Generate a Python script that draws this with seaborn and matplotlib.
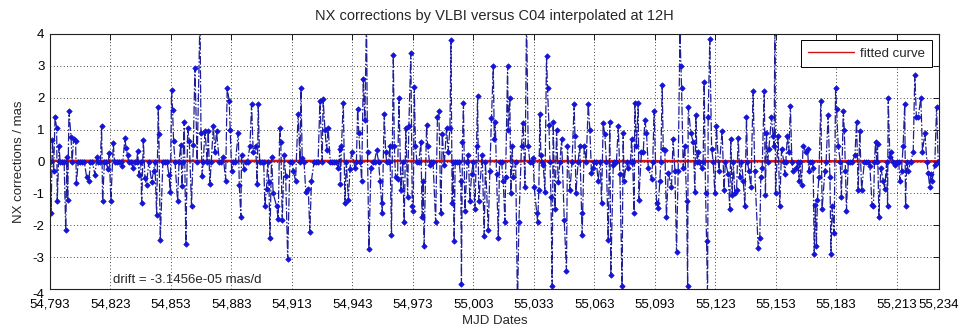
import numpy as np
import pandas as pd
import matplotlib
matplotlib.use("Agg")
import matplotlib.pyplot as plt
import matplotlib.transforms as mtransforms
import seaborn as sns
from matplotlib.ticker import FuncFormatter

sns.set_style("white")
plt.rcParams["font.family"] = ["Liberation Sans", "DejaVu Sans"]

# ---- data (MJD, NX correction in mas) ----
seg1_mjd = [54793.5, 54794.2, 54794.8, 54795.5, 54796.3, 54796.6, 54797.5, 54800.8, 54801.4, 54801.8,
            54802.4, 54803.4, 54804.7, 54805.7, 54806.1, 54811.2, 54812.3, 54815.3, 54816.3, 54818.6,
            54819.1, 54821.6, 54822.4, 54823.2, 54824.4, 54828.9, 54830.2, 54830.7, 54831.5, 54834.3,
            54836.5, 54837.1, 54838.5, 54839.3, 54840.1, 54840.9, 54843.4, 54844.4, 54845.9, 54846.7,
            54847.0, 54847.7, 54852.0, 54852.7, 54853.3, 54853.8, 54854.3, 54856.3, 54857.9, 54858.5,
            54859.6, 54860.4, 54861.3, 54862.1, 54863.2, 54864.1, 54864.9]
seg1_val = [-1.6, 0.68, -0.3, 1.4, 1.05, -1.25, 0.5, -2.15, 0.15, -1.2,
            1.6, 0.78, 0.72, 0.65, -0.68, -0.5, -0.6, -0.42, 0.15, 1.1,
            -1.25, -0.25, 0.27, -1.25, 0.57, -0.15, 0.73, 0.42, 0.2, -0.2,
            0.32, -0.42, -1.3, 0.68, -0.52, -0.73, -0.63, -0.3, -1.68, 1.72,
            0.86, -2.46, -0.42, -0.95, 2.25, 1.62, 0.63, -1.25, 0.52, -0.78,
            1.25, -2.6, 1.05, 0.63, -1.4, 0.52, 2.93]

seg2_mjd = [54867.4, 54867.9, 54868.5, 54869.9, 54871.5, 54872.3, 54874.0, 54874.8, 54875.6, 54879.0,
            54880.1, 54880.9, 54881.9, 54882.4, 54883.1, 54886.4, 54886.9, 54887.7, 54888.0, 54889.4,
            54892.2, 54893.0, 54893.8, 54895.0, 54895.8, 54896.3, 54899.6, 54900.4, 54901.6, 54902.1,
            54902.9, 54903.7, 54905.4, 54906.2, 54907.0, 54907.5, 54908.2, 54909.2, 54909.9, 54910.9,
            54913.7, 54914.8, 54916.1, 54917.5, 54918.1, 54919.9, 54921.1, 54921.9, 54922.7, 54926.9,
            54928.5, 54929.4, 54930.2, 54931.0, 54936.0, 54936.8, 54937.1, 54937.6, 54938.5, 54939.3]
seg2_val = [4.6, 0.9, -0.45, 0.95, 0.95, -0.72, 1.1, 0.3, 0.95, 0.15,
            -0.6, 2.3, 1.9, 1.0, -0.3, 0.9, -0.75, -1.75, 0.2, -0.25,
            0.5, 1.8, 0.3, 0.5, -0.7, 1.8, -1.4, -0.85, -0.65, -2.4,
            0.15, -1.0, -1.4, -1.8, 1.05, 0.6, -1.85, 0.2, -0.45, -3.05,
            -0.3, -0.6, 1.5, 2.3, 0.1, -0.95, -0.85, -2.2, -0.6, 1.9,
            1.95, 1.0, 0.35, 1.05, -0.2, 0.4, -0.7, 0.5, 1.85, -1.3]

seg3_mjd = [54941.0, 54941.8, 54942.6, 54944.3, 54945.6, 54946.2, 54947.6, 54948.4, 54949.2, 54950.0,
            54950.5, 54951.2, 54952.2, 54955.0, 54956.7, 54957.5, 54957.8, 54958.8, 54959.5, 54961.6,
            54962.4, 54963.3, 54963.8, 54964.4, 54965.4, 54966.1, 54967.1, 54968.7, 54969.5, 54970.4,
            54971.0, 54972.0, 54972.7, 54973.2, 54973.7, 54974.3, 54977.0, 54977.6, 54978.1, 54978.6,
            54979.8, 54980.3, 54981.4, 54984.3, 54985.2, 54985.9, 54986.9, 54987.6, 54988.6, 54989.7,
            54990.5, 54991.4, 54991.9, 54992.5, 54993.5, 54996.8, 54997.1, 54997.6, 54998.1, 54998.8,
            55000.5, 55001.3, 55002.1, 55003.8, 55004.6, 55005.1, 55005.7, 55007.4, 55008.4, 55010.4,
            55011.2, 55012.0, 55012.9, 55013.4]
seg3_val = [-1.2, -0.25, 0.3, -0.2, 1.65, 0.9, -0.6, 2.6, 1.3, 4.6,
            0.3, -2.75, -0.2, 0.35, -0.6, -1.3, -1.6, 1.5, 0.3, 0.5,
            -2.3, 3.35, 0.5, -0.5, -0.55, 2.0, -0.9, -1.9, 1.05, -1.1,
            1.1, 3.4, -1.4, -1.55, 2.35, 0.5, 0.6, -1.75, -0.6, -2.65,
            1.15, 0.5, -0.1, -1.9, 1.4, 1.6, -1.6, 0.85, -0.1, 1.05,
            0.3, 1.05, 3.8, -1.3, -2.5, -0.6, -3.85, 0.6, 1.85, -1.55,
            0.2, -1.25, -0.4, -1.5, 0.5, 2.05, -1.25, 0.2, -2.35, -2.15,
            -0.3, 1.35, 3.0, 0.7]

seg4_mjd = [55013.9, 55014.5, 55015.4, 55017.8, 55018.7, 55019.0, 55020.0, 55020.3, 55021.1, 55021.6,
            55022.3, 55022.8, 55024.9, 55025.6, 55026.9, 55027.7, 55028.6, 55029.4, 55030.2, 55032.7,
            55033.2, 55034.4, 55034.9, 55035.5, 55036.0, 55036.5, 55037.7, 55038.5, 55039.3, 55039.8,
            55040.5, 55041.5, 55042.1, 55042.6, 55043.5, 55044.3, 55045.1, 55046.8, 55048.1, 55049.2,
            55049.7, 55050.9, 55053.0, 55053.4, 55053.9, 55055.8, 55056.7, 55057.0, 55058.0, 55060.0,
            55060.8, 55061.6, 55062.5, 55064.9, 55066.6, 55067.4, 55068.2, 55069.9, 55070.7, 55071.2,
            55072.4, 55074.9, 55075.7, 55076.8, 55077.3, 55077.8, 55079.8, 55081.5, 55082.8, 55083.1,
            55083.9, 55084.8, 55085.1, 55086.4, 55087.3]
seg4_val = [1.25, -0.4, -2.4, -0.6, -1.9, -0.5, 3.0, 1.0, 2.0, -1.0,
            0.5, -0.5, -4.6, -1.9, 0.5, 1.2, -0.8, 4.6, 0.5, 0.1,
            -0.8, -1.6, -1.9, -0.9, 1.5, 0.2, -0.1, -0.95, 3.3, 2.3,
            1.15, -1.1, -3.9, 1.25, -1.5, 1.0, -0.65, 0.7, -1.85, -3.45,
            0.5, -0.9, 1.8, 0.8, -1.0, 0.5, -1.6, -2.3, 0.5, 1.8,
            1.0, -0.35, -0.2, -0.6, -1.3, 1.2, 0.85, -2.45, 1.25, -3.55,
            -0.1, 1.1, -0.4, -3.9, 0.9, -0.6, -0.2, 0.7, -1.6, 1.85,
            0.5, 1.85, -1.2, 0.3, 0.3]

seg5_mjd = [55088.1, 55088.9, 55089.8, 55091.4, 55092.7, 55093.9, 55094.7, 55095.5, 55096.7, 55097.2,
            55098.0, 55098.8, 55099.7, 55101.3, 55102.1, 55103.0, 55103.8, 55104.6, 55105.5, 55106.0,
            55106.3, 55107.1, 55107.9, 55108.8, 55109.3, 55109.6, 55110.9, 55112.1, 55112.9, 55113.4,
            55114.5, 55116.2, 55117.5, 55118.2, 55118.7, 55119.2, 55119.5, 55120.3, 55121.2, 55122.8,
            55123.6, 55124.8, 55126.4, 55127.4, 55129.4, 55130.2, 55130.7, 55131.4, 55132.7, 55133.6,
            55134.4, 55135.2, 55136.9, 55137.7, 55138.5, 55139.7, 55140.7, 55141.8, 55142.6, 55144.3,
            55145.1, 55145.6, 55146.3, 55147.3, 55147.9, 55148.4, 55149.6, 55150.9, 55151.7, 55152.2,
            55152.6, 55152.9, 55154.2, 55155.0, 55155.9, 55157.5, 55158.8, 55159.5, 55160.3, 55161.6]
seg5_val = [1.3, 0.9, -0.2, -0.55, 1.6, -1.3, -1.45, -0.6, 2.4, 0.4,
            0.35, -1.75, -0.35, -0.8, 0.7, -0.3, -2.85, -0.3, 4.05, 3.0,
            2.3, -0.2, 0.5, -1.25, -3.9, 1.7, 0.9, 0.6, -0.95, 1.45,
            0.3, -0.2, 2.5, -1.0, -2.5, -4.3, 1.4, 3.85, 0.4, -1.0,
            1.1, -0.3, 0.95, -0.9, -0.4, -1.5, 0.7, -1.05, -1.0, -0.9,
            0.75, -0.5, -0.6, -1.4, 1.4, -0.3, -0.8, 2.2, -0.3, -2.7,
            -2.4, -0.5, -0.2, 2.2, -1.05, 0.9, 0.4, 1.4, 0.8, 0.5,
            4.5, -1.0, 0.8, -1.4, 0.4, -0.4, 0.8, 0.3, 1.75, -0.3]

seg6_mjd = [55163.3, 55164.5, 55165.8, 55166.6, 55167.8, 55168.8, 55169.4, 55171.6, 55172.1, 55172.7,
            55173.2, 55173.7, 55174.4, 55175.4, 55176.0, 55177.4, 55179.0, 55179.9, 55180.4, 55181.0,
            55182.0, 55182.7, 55183.2, 55184.0, 55185.6, 55186.5, 55187.0, 55187.6, 55188.1, 55192.3,
            55193.1, 55193.9, 55194.7, 55195.6, 55199.7, 55200.8, 55201.5, 55202.5, 55203.5, 55204.2,
            55205.1, 55206.3, 55207.1, 55208.5, 55208.8, 55209.6, 55210.4, 55212.1, 55214.6, 55215.4,
            55216.2, 55217.0, 55217.4, 55218.7, 55221.2, 55222.0, 55222.8, 55223.7, 55225.0, 55225.8,
            55227.0, 55228.6, 55229.4, 55229.9, 55230.6, 55231.9, 55232.8, 55233.6]
seg6_val = [-0.2, -0.6, -0.75, 0.5, 0.3, 0.4, -0.3, -0.2, -2.9, -1.35,
            -2.65, -1.2, -0.5, 1.9, -1.5, -0.3, 1.45, -0.5, -2.9, -1.4,
            -2.25, 2.3, 1.65, 0.5, -1.1, 1.6, 1.0, -0.3, -1.55, 0.2,
            1.25, -0.9, 0.95, -0.9, -0.15, -1.35, -1.4, 0.6, 0.55, -1.75,
            -0.2, -0.6, -0.85, -1.4, 2.0, 0.15, 0.3, -0.1, -0.6, -0.3,
            0.5, 1.8, -1.4, -0.3, 0.3, 2.7, 1.4, 1.4, 2.0, 0.3,
            0.9, -0.35, -0.8, -0.4, -0.6, -0.1, 1.7, 0.0]

baseline_val = 0.0            # days between sessions sit on the zero line
drift = -3.1456e-05           # mas/d, fitted slope
fit_offset = 0.02             # mas, fitted value at the first date
mjd_first, mjd_last = 54793, 55234
xtick_vals = [54793, 54823, 54853, 54883, 54913, 54943, 54973, 55003,
              55033, 55063, 55093, 55123, 55153, 55183, 55213, 55234]
ytick_vals = [-4, -3, -2, -1, 0, 1, 2, 3, 4]

# ---- assemble ----
spike_mjd = np.array(seg1_mjd + seg2_mjd + seg3_mjd + seg4_mjd + seg5_mjd + seg6_mjd)
spike_val = np.array(seg1_val + seg2_val + seg3_val + seg4_val + seg5_val + seg6_val)
days = np.arange(mjd_first, mjd_last + 1)
near = np.min(np.abs(days[:, None] - spike_mjd[None, :]), axis=1) < 0.45
base_mjd = days[~near]
mjd = np.concatenate([spike_mjd, base_mjd])
nx = np.concatenate([spike_val, np.full(len(base_mjd), baseline_val)])
order = np.argsort(mjd)
df = pd.DataFrame({"mjd": mjd[order], "nx": nx[order]})

fit_x = np.array([mjd_first, mjd_last], dtype=float)
fit_df = pd.DataFrame({"mjd": fit_x, "fit": fit_offset + drift * (fit_x - mjd_first)})

# ---- figure ----
W, H = 962, 332
FS = 9.5
fig = plt.figure(figsize=(W / 100, H / 100), dpi=100)
fig.patch.set_facecolor("white")
ax = fig.add_axes([50 / W, 1 - 289 / H, 889 / W, 255 / H])

sns.lineplot(data=fit_df, x="mjd", y="fit", ax=ax, color="#d81010",
             linewidth=1.8, label="fitted curve", zorder=1.9)
sns.lineplot(data=df, x="mjd", y="nx", ax=ax, estimator=None, sort=False,
             color="#1e1e96", linestyle=(0, (7, 1.6, 1.2, 1.6)), linewidth=0.9,
             marker="D", markersize=2.8, markerfacecolor="#1414d8",
             markeredgecolor="#1414d8", markeredgewidth=0.5,
             legend=False, zorder=2)

ax.set_xlim(mjd_first, mjd_last)
ax.set_ylim(-4, 4)
ax.set_xticks(xtick_vals)
ax.set_yticks(ytick_vals)
ax.xaxis.set_major_formatter(FuncFormatter(lambda v, p: f"{int(round(v)):,}"))
ax.yaxis.set_major_formatter(FuncFormatter(lambda v, p: f"{int(round(v))}"))
ax.grid(True, color="black", linestyle=(0, (1, 3)), linewidth=0.6)
ax.tick_params(direction="in", top=True, right=True, length=4, width=0.6,
               labelsize=FS, colors="black")
ax.tick_params(axis="x", pad=7)
ax.tick_params(axis="y", pad=4)
for s in ax.spines.values():
    s.set_color("#202020")
    s.set_linewidth(0.8)

# the lowest y label sits a little below its gridline, as in the reference
fig.canvas.draw()
for lab in ax.get_yticklabels():
    if lab.get_text() == "-4":
        lab.set_transform(lab.get_transform() +
                          mtransforms.ScaledTranslation(0, -4 / 100, fig.dpi_scale_trans))

ax.set_title("NX corrections by VLBI versus C04 interpolated at 12H", fontsize=10.5, pad=10)
ax.set_xlabel("MJD Dates", fontsize=FS, labelpad=3)
ax.set_ylabel("NX corrections / mas", fontsize=FS, labelpad=5)
ax.text(54824.3, -3.72, "drift = -3.1456e-05 mas/d", fontsize=FS, va="center")

leg = ax.legend(loc="upper right", bbox_to_anchor=(0.992, 0.975), fontsize=FS,
                handlelength=3.5, handletextpad=0.4, frameon=True, fancybox=False,
                framealpha=1, borderpad=0.55, borderaxespad=0)
leg.get_frame().set_edgecolor("black")
leg.get_frame().set_linewidth(0.7)
for h in leg.get_lines():
    h.set_linewidth(1.0)

fig.savefig("out.png", dpi=100, facecolor="white")
